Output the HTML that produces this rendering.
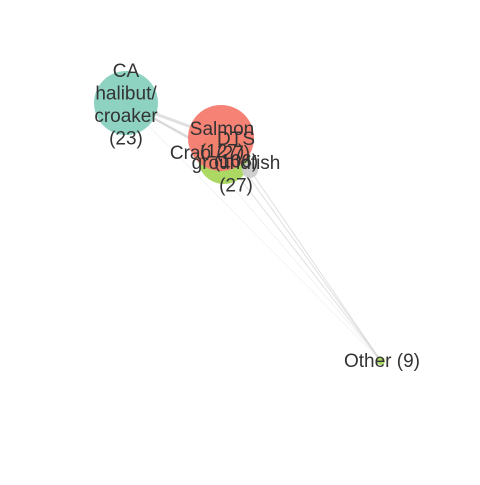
<!DOCTYPE html>
<html><head><meta charset="utf-8"><style>
body{margin:0;background:#fff}
text{font-family:"Liberation Sans",sans-serif;font-size:19px;fill:#333;text-anchor:middle}
</style></head><body>
<svg width="480" height="480">
<g id="edges"></g><g id="nodes"></g><g id="labels"></g>
</svg>
<script>
const names=["CA halibut/croaker","groundfish","Crab","Salmon","DTS","Other"];
const counts=[23,27,27,127,106,9];
const xs=[126,224,205,221,250,381];
const ys=[103,158,155,138,170,361];
const radii=[32,26,8,33,8,4];
const colors=["#88d1bf","#a6d75b","#a6d75b","#f47b6e","#cccccc","#a6d75b"];
const edgesFrom=[0,0,0,3,3,3,1,2,4,0];
const edgesTo=[3,1,4,5,1,4,5,5,5,5];
const edgeW=[3,2,1.5,1,2,2,1,0.5,1,0.5];
const NS="http://www.w3.org/2000/svg";
const eg=document.getElementById('edges'),ng=document.getElementById('nodes'),lg=document.getElementById('labels');
edgesFrom.forEach((f,i)=>{const t=edgesTo[i];const l=document.createElementNS(NS,'line');
l.setAttribute('x1',xs[f]);l.setAttribute('y1',ys[f]);l.setAttribute('x2',xs[t]);l.setAttribute('y2',ys[t]);
l.setAttribute('stroke','#ccc');l.setAttribute('stroke-opacity','0.6');l.setAttribute('stroke-width',edgeW[i]);


eg.appendChild(l);});
names.forEach((n,i)=>{const c=document.createElementNS(NS,'circle');
c.setAttribute('cx',xs[i]);c.setAttribute('cy',ys[i]);c.setAttribute('r',radii[i]);c.setAttribute('fill',colors[i]);c.setAttribute('fill-opacity','0.95');


ng.appendChild(c);});
function label(lines,x,y,name){const t=document.createElementNS(NS,'text');
lines.forEach((s,k)=>{const ts=document.createElementNS(NS,'tspan');ts.setAttribute('x',x);ts.setAttribute('y',y+k*22.5);ts.textContent=s;t.appendChild(ts);});


lg.appendChild(t);}
label(["CA","halibut/","croaker","("+counts[0]+")"],126,77,'label-ca-halibut');
label(["Salmon","("+counts[3]+")"],222,135,'label-salmon');
label(["DTS","("+counts[4]+")"],236,145,'label-dts');
label(["Crab ("+counts[2]+")"],210,159,'label-crab');
label(["groundfish","("+counts[1]+")"],236,169,'label-groundfish');
label(["Other ("+counts[5]+")"],382,367,'label-other');
</script>
</body></html>
